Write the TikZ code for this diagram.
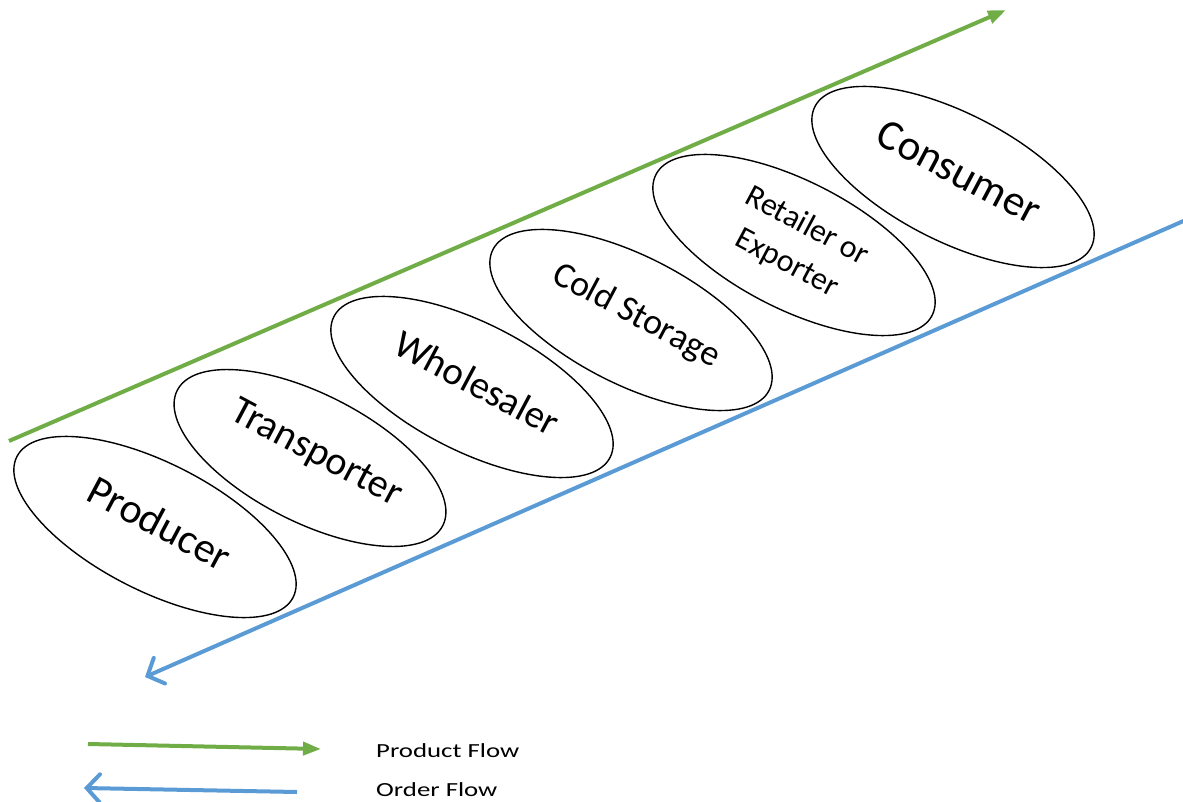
\documentclass[tikz,border=0pt]{standalone}
\usepackage{fontspec}
\setmainfont{Carlito}
\usetikzlibrary{shapes.geometric,arrows.meta}
\definecolor{flowgreen}{HTML}{70AD47}
\definecolor{flowblue}{HTML}{5B9BD5}
\begin{document}
\begin{tikzpicture}[x=1pt,y=-1pt,
  stage/.style={draw=black, line width=1.4pt, ellipse, minimum width=310pt,
    minimum height=128pt, inner sep=0pt, rotate=-27},
  stagetext/.style={inner sep=0pt, rotate=-28, align=center},
  product/.style={flowgreen, line width=4pt, -{Triangle[length=18pt,width=13pt]}},
  order/.style={flowblue, line width=4pt,
    -{Straight Barb[length=13pt,width=28pt,line cap=round]}},
  legendtext/.style={anchor=west, inner sep=0pt, font=\fontsize{20}{24}\selectfont}
]
\useasboundingbox (0,0) rectangle (1183,802);

% supply chain stages
\node[stage] (producer) at (155,527) {};
\node[stage, minimum width=298pt] (transporter) at (310,458) {};
\node[stage] (wholesaler) at (472,387) {};
\node[stage] (coldstorage) at (631,320) {};
\node[stage] (retailer) at (794,245) {};
\node[stage] (consumer) at (953,177) {};

% stage names
\node[stagetext, font=\fontsize{42}{50}\selectfont] (producer-name)
  at ([shift={(5,-4)}]producer.center) {Producer};
\node[stagetext, font=\fontsize{40}{48}\selectfont] (transporter-name)
  at ([shift={(6,-4)}]transporter.center) {Transporter};
\node[stagetext, font=\fontsize{39}{47}\selectfont] (wholesaler-name)
  at ([shift={(5,-4)}]wholesaler.center) {Wholesaler};
\node[stagetext, font=\fontsize{36}{44}\selectfont] (coldstorage-name)
  at ([shift={(5,-4)}]coldstorage.center) {Cold Storage};
\node[stagetext, font=\fontsize{32}{42}\selectfont] (retailer-name)
  at ([shift={(3,0)}]retailer.center) {Retailer or\\Exporter};
\node[stagetext, font=\fontsize{43}{50}\selectfont] (consumer-name)
  at ([shift={(6,-5)}]consumer.center) {Consumer};

% product flow (upstream to downstream)
\coordinate (pstart) at (9,441);
\coordinate (pend) at (1006,10);
\draw[product] (pstart) -- (pend);

% order flow (downstream to upstream)
\coordinate (ostart) at (1188,219);
\coordinate (oend) at (145,677);
\draw[order] (ostart) -- (oend);

% legend
\coordinate (lp1) at (88,744);
\coordinate (lp2) at (321,749);
\draw[product] (lp1) -- (lp2);
\coordinate (lo1) at (297,792);
\coordinate (lo2) at (84,788);
\draw[order] (lo1) -- (lo2);
\node[legendtext] (lproduct) at (376,751) {\scalebox{1.34}[1]{Product Flow}};
\node[legendtext] (lorder) at (376,790) {\scalebox{1.34}[1]{Order Flow}};
\end{tikzpicture}
\end{document}
